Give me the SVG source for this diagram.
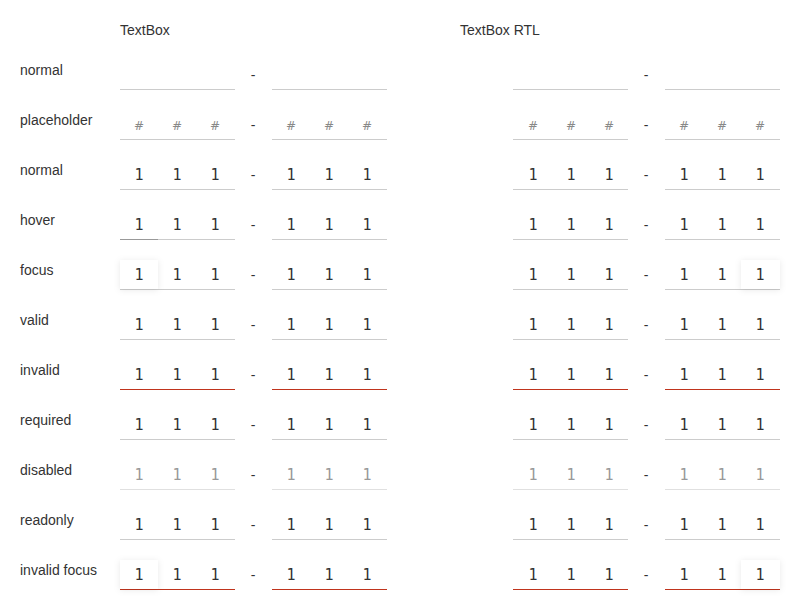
<svg xmlns="http://www.w3.org/2000/svg" width="800" height="610" viewBox="0 0 800 610">
<style>
.lbl{font-family:"Liberation Sans",Arial,sans-serif;font-size:14px;fill:#333}
.d{font-family:"DejaVu Sans Mono","Liberation Mono",monospace;font-size:15px;fill:#333;text-anchor:middle}
.ph{font-family:"DejaVu Sans","Liberation Sans",sans-serif;font-size:12px;fill:#888;text-anchor:middle}
.dis{fill:#999}
.dash{font-family:"Liberation Sans",Arial,sans-serif;font-size:14px;fill:#333;text-anchor:middle}
.ul{stroke:#ccc;stroke-width:1;fill:none}
.ulh{stroke:#999;stroke-width:1;fill:none}
.uli{stroke:#c0341d;stroke-width:1;fill:none}
.uld{stroke:#e0e0e0;stroke-width:1;fill:none}
.foc{fill:#fff;filter:url(#sh)}
</style>
<defs>
<filter id="sh" x="-50%" y="-50%" width="200%" height="200%">
<feDropShadow dx="0" dy="1" stdDeviation="3" flood-color="#000" flood-opacity="0.09"/>
</filter>
</defs>
<rect width="800" height="610" fill="#fff"/>
<text class="lbl" x="120" y="35">TextBox</text>
<text class="lbl" x="460" y="35">TextBox RTL</text>

<g id="row-normal-empty">
<text class="lbl" x="20" y="75">normal</text>
<path class="ul" d="M120 89.5H235M272 89.5H387M513 89.5H628M665 89.5H780"/>
<text class="dash" x="253" y="80">-</text>
<text class="dash" x="646" y="80">-</text>
</g>

<g id="row-placeholder">
<text class="lbl" x="20" y="125">placeholder</text>
<path class="ul" d="M120 139.5H235M272 139.5H387M513 139.5H628M665 139.5H780"/>
<text class="ph" x="139" y="130">#</text><text class="ph" x="177" y="130">#</text><text class="ph" x="215" y="130">#</text>
<text class="dash" x="253" y="130">-</text>
<text class="ph" x="291" y="130">#</text><text class="ph" x="329" y="130">#</text><text class="ph" x="367" y="130">#</text>
<text class="ph" x="533" y="130">#</text><text class="ph" x="571" y="130">#</text><text class="ph" x="609" y="130">#</text>
<text class="dash" x="646" y="130">-</text>
<text class="ph" x="684" y="130">#</text><text class="ph" x="722" y="130">#</text><text class="ph" x="760" y="130">#</text>
</g>

<g id="row-normal">
<text class="lbl" x="20" y="175">normal</text>
<path class="ul" d="M120 189.5H235M272 189.5H387M513 189.5H628M665 189.5H780"/>
<g transform="translate(0,180)">
<text class="d" x="139">1</text><text class="d" x="177">1</text><text class="d" x="215">1</text>
<text class="dash" x="253">-</text>
<text class="d" x="291">1</text><text class="d" x="329">1</text><text class="d" x="367">1</text>
<text class="d" x="533">1</text><text class="d" x="571">1</text><text class="d" x="609">1</text>
<text class="dash" x="646">-</text>
<text class="d" x="684">1</text><text class="d" x="722">1</text><text class="d" x="760">1</text>
</g>
</g>

<g id="row-hover">
<text class="lbl" x="20" y="225">hover</text>
<path class="ul" d="M158 239.5H235M272 239.5H387M513 239.5H628M665 239.5H780"/>
<path class="ulh" d="M120 239.5H158"/>
<g transform="translate(0,230)">
<text class="d" x="139">1</text><text class="d" x="177">1</text><text class="d" x="215">1</text>
<text class="dash" x="253">-</text>
<text class="d" x="291">1</text><text class="d" x="329">1</text><text class="d" x="367">1</text>
<text class="d" x="533">1</text><text class="d" x="571">1</text><text class="d" x="609">1</text>
<text class="dash" x="646">-</text>
<text class="d" x="684">1</text><text class="d" x="722">1</text><text class="d" x="760">1</text>
</g>
</g>

<g id="row-focus">
<text class="lbl" x="20" y="275">focus</text>
<path class="ul" d="M120 289.5H235M272 289.5H387M513 289.5H628M665 289.5H780"/>
<rect class="foc" x="120" y="260" width="38" height="29"/>
<rect class="foc" x="741" y="260" width="39" height="29"/>
<g transform="translate(0,280)">
<text class="d" x="139">1</text><text class="d" x="177">1</text><text class="d" x="215">1</text>
<text class="dash" x="253">-</text>
<text class="d" x="291">1</text><text class="d" x="329">1</text><text class="d" x="367">1</text>
<text class="d" x="533">1</text><text class="d" x="571">1</text><text class="d" x="609">1</text>
<text class="dash" x="646">-</text>
<text class="d" x="684">1</text><text class="d" x="722">1</text><text class="d" x="760">1</text>
</g>
</g>

<g id="row-valid">
<text class="lbl" x="20" y="325">valid</text>
<path class="ul" d="M120 339.5H235M272 339.5H387M513 339.5H628M665 339.5H780"/>
<g transform="translate(0,330)">
<text class="d" x="139">1</text><text class="d" x="177">1</text><text class="d" x="215">1</text>
<text class="dash" x="253">-</text>
<text class="d" x="291">1</text><text class="d" x="329">1</text><text class="d" x="367">1</text>
<text class="d" x="533">1</text><text class="d" x="571">1</text><text class="d" x="609">1</text>
<text class="dash" x="646">-</text>
<text class="d" x="684">1</text><text class="d" x="722">1</text><text class="d" x="760">1</text>
</g>
</g>

<g id="row-invalid">
<text class="lbl" x="20" y="375">invalid</text>
<path class="uli" d="M120 389.5H235M272 389.5H387M513 389.5H628M665 389.5H780"/>
<g transform="translate(0,380)">
<text class="d" x="139">1</text><text class="d" x="177">1</text><text class="d" x="215">1</text>
<text class="dash" x="253">-</text>
<text class="d" x="291">1</text><text class="d" x="329">1</text><text class="d" x="367">1</text>
<text class="d" x="533">1</text><text class="d" x="571">1</text><text class="d" x="609">1</text>
<text class="dash" x="646">-</text>
<text class="d" x="684">1</text><text class="d" x="722">1</text><text class="d" x="760">1</text>
</g>
</g>

<g id="row-required">
<text class="lbl" x="20" y="425">required</text>
<path class="ul" d="M120 439.5H235M272 439.5H387M513 439.5H628M665 439.5H780"/>
<g transform="translate(0,430)">
<text class="d" x="139">1</text><text class="d" x="177">1</text><text class="d" x="215">1</text>
<text class="dash" x="253">-</text>
<text class="d" x="291">1</text><text class="d" x="329">1</text><text class="d" x="367">1</text>
<text class="d" x="533">1</text><text class="d" x="571">1</text><text class="d" x="609">1</text>
<text class="dash" x="646">-</text>
<text class="d" x="684">1</text><text class="d" x="722">1</text><text class="d" x="760">1</text>
</g>
</g>

<g id="row-disabled">
<text class="lbl" x="20" y="475">disabled</text>
<path class="uld" d="M120 489.5H235M272 489.5H387M513 489.5H628M665 489.5H780"/>
<g transform="translate(0,480)">
<text class="d dis" x="139">1</text><text class="d dis" x="177">1</text><text class="d dis" x="215">1</text>
<text class="dash" x="253">-</text>
<text class="d dis" x="291">1</text><text class="d dis" x="329">1</text><text class="d dis" x="367">1</text>
<text class="d dis" x="533">1</text><text class="d dis" x="571">1</text><text class="d dis" x="609">1</text>
<text class="dash" x="646">-</text>
<text class="d dis" x="684">1</text><text class="d dis" x="722">1</text><text class="d dis" x="760">1</text>
</g>
</g>

<g id="row-readonly">
<text class="lbl" x="20" y="525">readonly</text>
<path class="ul" d="M120 539.5H235M272 539.5H387M513 539.5H628M665 539.5H780"/>
<g transform="translate(0,530)">
<text class="d" x="139">1</text><text class="d" x="177">1</text><text class="d" x="215">1</text>
<text class="dash" x="253">-</text>
<text class="d" x="291">1</text><text class="d" x="329">1</text><text class="d" x="367">1</text>
<text class="d" x="533">1</text><text class="d" x="571">1</text><text class="d" x="609">1</text>
<text class="dash" x="646">-</text>
<text class="d" x="684">1</text><text class="d" x="722">1</text><text class="d" x="760">1</text>
</g>
</g>

<g id="row-invalid-focus">
<text class="lbl" x="20" y="575">invalid focus</text>
<path class="uli" d="M120 589.5H235M272 589.5H387M513 589.5H628M665 589.5H780"/>
<rect class="foc" x="120" y="560" width="38" height="29"/>
<rect class="foc" x="741" y="560" width="39" height="29"/>
<g transform="translate(0,580)">
<text class="d" x="139">1</text><text class="d" x="177">1</text><text class="d" x="215">1</text>
<text class="dash" x="253">-</text>
<text class="d" x="291">1</text><text class="d" x="329">1</text><text class="d" x="367">1</text>
<text class="d" x="533">1</text><text class="d" x="571">1</text><text class="d" x="609">1</text>
<text class="dash" x="646">-</text>
<text class="d" x="684">1</text><text class="d" x="722">1</text><text class="d" x="760">1</text>
</g>
</g>
</svg>
